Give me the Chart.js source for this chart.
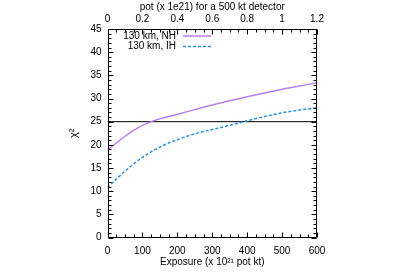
<!DOCTYPE html>
<html><head><meta charset="utf-8">
<script src="https://cdn.jsdelivr.net/npm/chart.js@4/dist/chart.umd.min.js"></script>
<style>html,body{margin:0;padding:0;background:#fff}#wrap{width:400px;height:279px}</style>
</head><body><div id="wrap"><canvas id="c" width="400" height="279"></canvas></div>
<script>
const exposure = [0, 25, 50, 75, 100, 125, 150, 175, 200, 250, 300, 350, 400, 450, 500, 550, 600];
const chi2NH =   [18.9, 20.4, 21.8, 23.1, 24.2, 25.0, 25.6, 26.1, 26.6, 27.6, 28.6, 29.5, 30.4, 31.2, 32.0, 32.7, 33.4];
const chi2IH =   [10.8, 12.6, 14.3, 15.9, 17.3, 18.5, 19.5, 20.4, 21.1, 22.4, 23.3, 24.2, 25.2, 26.1, 26.9, 27.5, 28.0];
const thresholdX = [0, 600];
const thresholdY = [25, 25];
const seriesLabels = ['130 km, NH', '130 km, IH'];
const xTitle = 'Exposure (x 10\u00B2\u00B9 pot kt)';
const x2Title = 'pot (x 1e21) for a 500 kt detector';
const yTitle = '\u03C7\u00B2';

const FONT = 'Liberation Sans, Arial, Helvetica, sans-serif';
const FS = 10;
const pts = (xs, ys) => xs.map((x, i) => ({x: x, y: ys[i]}));

const framePlugin = {
  id: 'frame',
  afterDatasetsDraw(chart) {
    const ctx = chart.ctx, a = chart.chartArea;
    const sx = chart.scales.x, sx2 = chart.scales.x2, sy = chart.scales.y;
    ctx.save();
    ctx.strokeStyle = '#000';
    ctx.lineWidth = 1;
    ctx.beginPath();
    const L = Math.round(a.left) + 0.5, R = Math.round(a.right) - 0.5, T = Math.round(a.top) + 0.5, B = Math.round(a.bottom) - 0.5;
    ctx.rect(L, T, R - L, B - T);
    const MJ = 5, MN = 3;
    for (let v = 0; v <= 600; v += 25) {
      const p = Math.round(sx.getPixelForValue(v)) + 0.5;
      const len = (v % 100 === 0) ? MJ : MN;
      ctx.moveTo(p, B); ctx.lineTo(p, B - len);
    }
    for (let k = 0; k <= 24; k++) {
      const v = k * 0.05;
      const p = Math.round(sx2.getPixelForValue(v)) + 0.5;
      const len = (k % 4 === 0) ? MJ : MN;
      ctx.moveTo(p, T); ctx.lineTo(p, T + len);
    }
    for (let v = 0; v <= 45; v += 1) {
      const p = Math.round(sy.getPixelForValue(v)) + 0.5;
      const len = (v % 5 === 0) ? MJ : MN;
      ctx.moveTo(L, p); ctx.lineTo(L + len, p);
      ctx.moveTo(R, p); ctx.lineTo(R - len, p);
    }
    ctx.stroke();
    const items = [
      {label: chart.data.datasets[0].label, color: chart.data.datasets[0].borderColor, dash: []},
      {label: chart.data.datasets[1].label, color: chart.data.datasets[1].borderColor, dash: [3, 2]}
    ];
    ctx.font = FS + 'px ' + FONT;
    ctx.textAlign = 'right';
    ctx.textBaseline = 'middle';
    items.forEach((it, i) => {
      const y = 36 + i * 10.5;
      ctx.fillStyle = '#000';
      ctx.fillText(it.label, 176, y);
      ctx.beginPath();
      ctx.strokeStyle = it.color;
      ctx.lineWidth = 1.5;
      ctx.setLineDash(it.dash);
      ctx.moveTo(183, y); ctx.lineTo(211, y);
      ctx.stroke();
      ctx.setLineDash([]);
    });
    ctx.restore();
  }
};

const fmt = v => String(Number(Number(v).toFixed(2)));

new Chart(document.getElementById('c'), {
  type: 'line',
  data: {
    datasets: [
      {label: seriesLabels[0], data: pts(exposure, chi2NH), borderColor: '#b77ff0', borderWidth: 1.5, pointRadius: 0, cubicInterpolationMode: 'monotone', xAxisID: 'x', yAxisID: 'y'},
      {label: seriesLabels[1], data: pts(exposure, chi2IH), borderColor: '#1f8ff0', borderWidth: 1.5, borderDash: [3, 2], pointRadius: 0, cubicInterpolationMode: 'monotone', xAxisID: 'x', yAxisID: 'y'},
      {label: 'threshold', data: pts(thresholdX, thresholdY), borderColor: '#000', borderWidth: 1, pointRadius: 0, xAxisID: 'x', yAxisID: 'y'}
    ]
  },
  options: {
    responsive: false,
    animation: false,
    devicePixelRatio: 1,
    layout: {padding: {left: 63, right: 83, top: 0, bottom: 0}},
    plugins: {legend: {display: false}, tooltip: {enabled: false}},
    scales: {
      x: {
        type: 'linear', position: 'bottom', min: 0, max: 600,
        afterFit: s => { s.height = 41.5; },
        grid: {display: false, drawTicks: false}, border: {display: false},
        ticks: {stepSize: 100, autoSkip: false, maxRotation: 0, padding: 8, color: '#000', font: {family: FONT, size: FS}, callback: fmt},
        title: {display: true, text: xTitle, color: '#000', font: {family: FONT, size: FS}, padding: {top: 0, bottom: 11}}
      },
      x2: {
        type: 'linear', position: 'top', min: 0, max: 1.2,
        afterFit: s => { s.height = 29; },
        grid: {display: false, drawTicks: false}, border: {display: false},
        ticks: {stepSize: 0.2, autoSkip: false, maxRotation: 0, padding: 4, color: '#000', font: {family: FONT, size: FS}, callback: fmt},
        title: {display: true, text: x2Title, color: '#000', font: {family: FONT, size: FS}, padding: {top: 1, bottom: 0}}
      },
      y: {
        type: 'linear', position: 'left', min: 0, max: 45,
        afterFit: s => { s.width = 44.5; },
        grid: {display: false, drawTicks: false}, border: {display: false},
        ticks: {stepSize: 5, autoSkip: false, padding: 6, color: '#000', font: {family: FONT, size: FS}, callback: fmt},
        title: {display: true, text: yTitle, color: '#000', font: {family: FONT, size: 11}, padding: {top: 4, bottom: 0}}
      }
    }
  },
  plugins: [framePlugin]
});
</script></body></html>
